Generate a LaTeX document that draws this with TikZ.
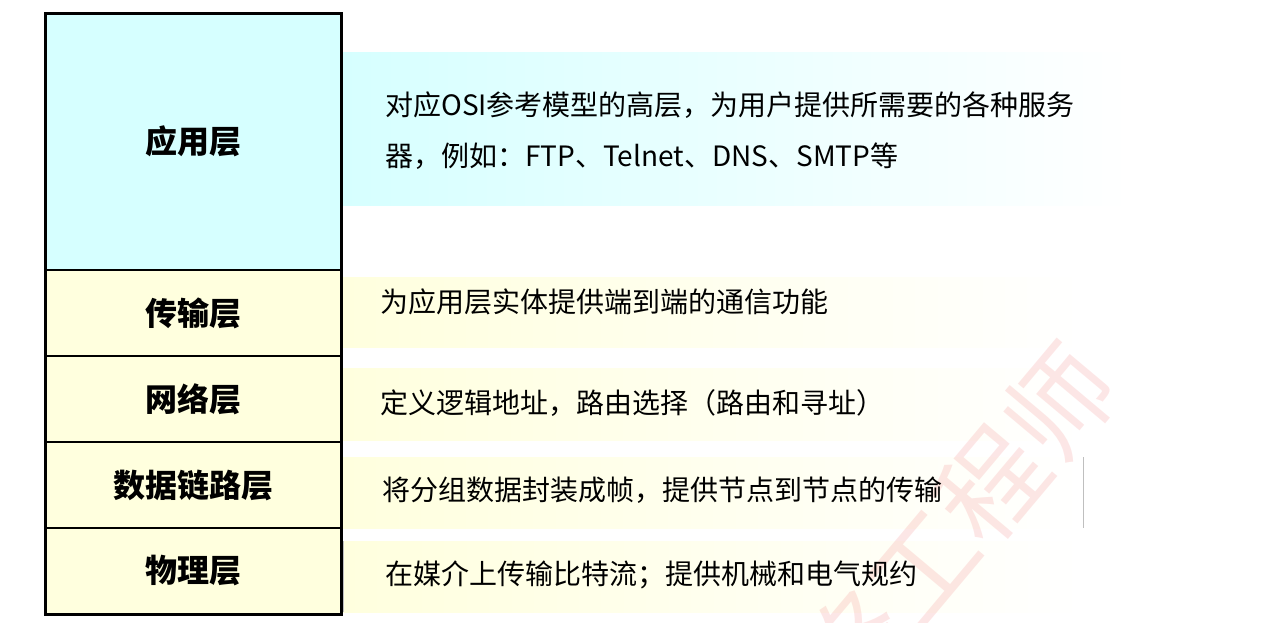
\documentclass[tikz,border=0pt]{standalone}
\usepackage{fontspec}
\setmainfont{Noto Sans CJK SC}
\usetikzlibrary{positioning}
\definecolor{appfill}{RGB}{214,255,255}
\definecolor{lowfill}{RGB}{255,255,222}
\definecolor{mark}{RGB}{238,90,90}
\tikzset{
  layer/.style={draw=black, line width=0.9pt, fill=lowfill, inner sep=0pt, outer sep=0pt,
                minimum width=222pt, minimum height=64.5pt,
                font=\fontsize{24}{28}\selectfont\bfseries},
  band/.style={inner sep=0pt, outer sep=0pt, left color=#1, right color=white,
               minimum height=53.25pt},
  desc/.style={anchor=west, inner sep=0pt, align=left,
               font=\fontsize{21}{38}\selectfont},
  edge/.style={draw=black!25, line width=0.6pt},
}

\begin{document}
\begin{tikzpicture}[x=0.75pt, y=0.75pt]
    \useasboundingbox (0,0) rectangle (1270,-622);
    % description bands
    \node[band=appfill, minimum width=591pt, minimum height=114.75pt] (appband) at (736,-128.5) {};
    \node[band=lowfill, minimum width=555.75pt, minimum height=52.5pt] (traband) at (712.5,-312) {};
    \node[band=lowfill, minimum width=555.75pt, minimum height=54pt] (netband) at (712.5,-404) {};
    \node[band=lowfill, minimum width=555.75pt] (dlband) at (712.5,-492.5) {};
    \node[band=lowfill, minimum width=555pt] (phyband) at (713,-576.5) {};
    \draw[edge] (dlband.north east) -- (dlband.south east);
    \draw[edge] (phyband.north west) -- (phyband.south west);
    % watermark
    \begin{scope}
      \clip (0,0) rectangle (1270,-622);
      \node[text=mark, opacity=0.15, font=\fontsize{80}{80}\selectfont, rotate=50] (wm) at (922,-566) {网络工程师};
    \end{scope}
    % layer stack
    \node[layer, fill=appfill, minimum height=192.75pt] (app) at (193,-141.5) {应用层};
    \node[layer, below=0pt of app] (tra) {传输层};
    \node[layer, below=0pt of tra] (net) {网络层};
    \node[layer, below=0pt of net] (dl) {数据链路层};
    \node[layer, below=0pt of dl] (phy) {物理层};
    \draw[line width=2.25pt] (app.north west) rectangle (phy.south east);
    % descriptions
    \node[desc] (apptxt) at (385,-130.5) {对应OSI参考模型的高层，为用户提供所需要的各种服务\\器，例如：FTP、Telnet、DNS、SMTP等};
    \node[desc] (tratxt) at (380,-302) {为应用层实体提供端到端的通信功能};
    \node[desc] (nettxt) at (380,-403) {定义逻辑地址，路由选择（路由和寻址）};
    \node[desc] (dltxt) at (382,-490) {将分组数据封装成帧，提供节点到节点的传输};
    \node[desc] (phytxt) at (385,-575) {在媒介上传输比特流；提供机械和电气规约};
  \end{tikzpicture}
\end{document}
